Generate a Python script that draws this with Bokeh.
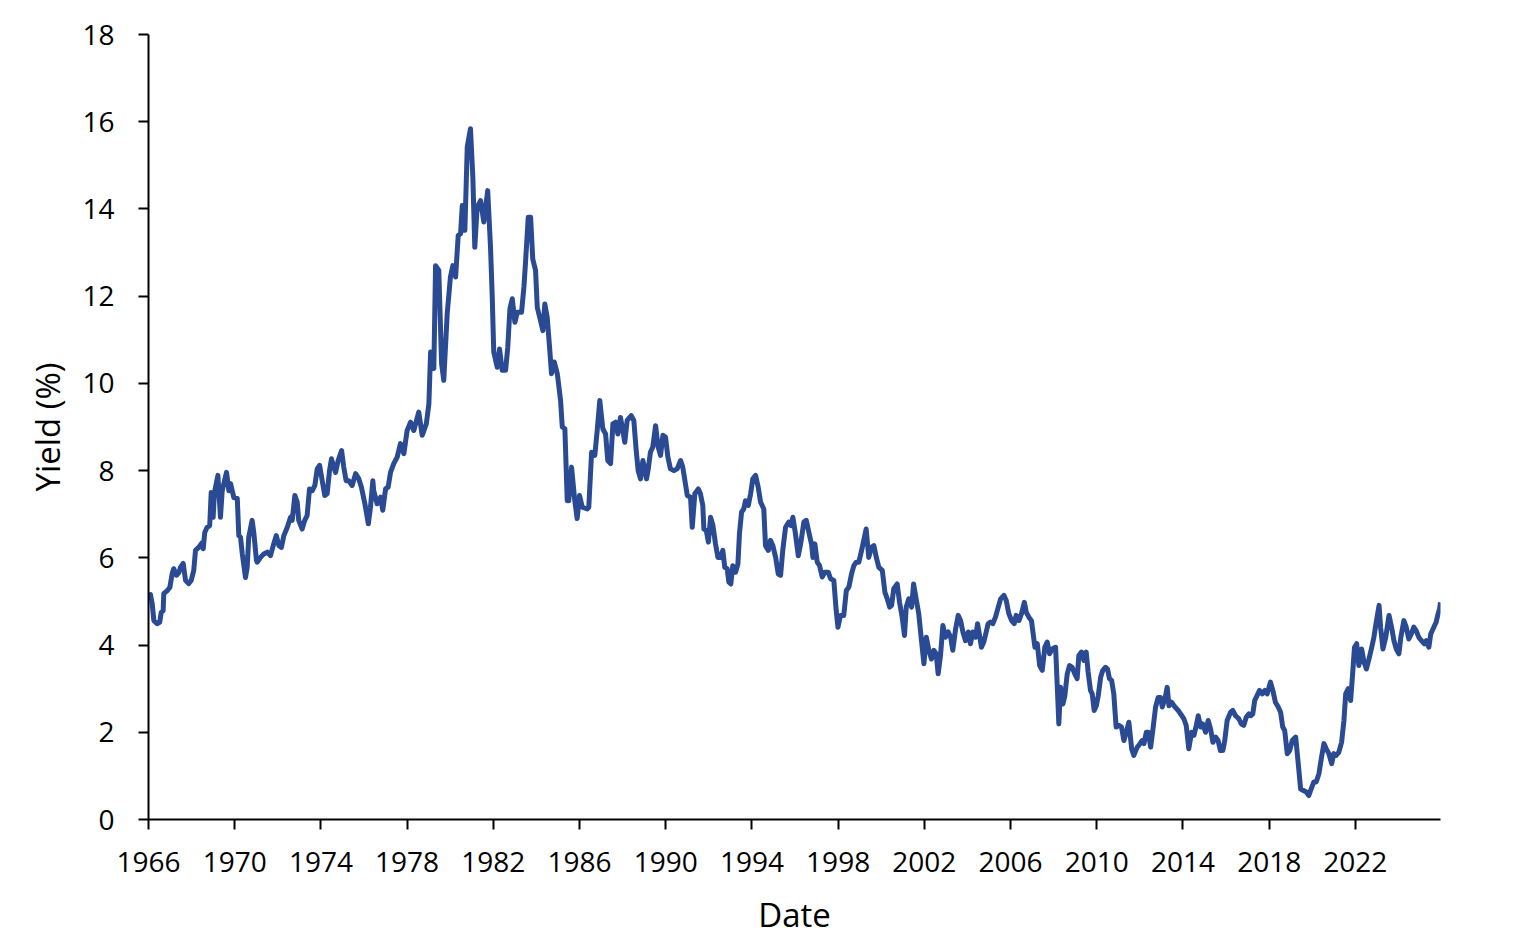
from bokeh.embed import file_html
from bokeh.models import ColumnDataSource, FixedTicker, Range1d
from bokeh.plotting import figure
from bokeh.resources import INLINE

# decimal year positions and yields (%)
dates = [
    1966.01, 1966.09, 1966.17, 1966.25, 1966.40, 1966.52, 1966.59, 1966.68, 1966.71, 1966.87,
    1966.99, 1967.10, 1967.17, 1967.30, 1967.41, 1967.48, 1967.61, 1967.72, 1967.87, 1967.98,
    1968.10, 1968.18, 1968.33, 1968.46, 1968.54, 1968.61, 1968.72, 1968.84, 1968.91, 1969.00,
    1969.06, 1969.22, 1969.34, 1969.42, 1969.62, 1969.73, 1969.81, 1969.96, 1970.12, 1970.19,
    1970.27, 1970.35, 1970.50, 1970.58, 1970.65, 1970.81, 1970.89, 1971.01, 1971.04, 1971.20,
    1971.35, 1971.51, 1971.66, 1971.81, 1971.93, 1972.05, 1972.17, 1972.28, 1972.44, 1972.59,
    1972.67, 1972.79, 1972.90, 1972.97, 1973.13, 1973.25, 1973.36, 1973.47, 1973.60, 1973.72,
    1973.83, 1973.94, 1974.06, 1974.18, 1974.29, 1974.40, 1974.49, 1974.60, 1974.68, 1974.80,
    1974.96, 1975.06, 1975.17, 1975.29, 1975.45, 1975.61, 1975.76, 1975.88, 1976.04, 1976.20,
    1976.30, 1976.41, 1976.45, 1976.61, 1976.77, 1976.87, 1977.00, 1977.12, 1977.23, 1977.38,
    1977.54, 1977.69, 1977.85, 1978.00, 1978.16, 1978.31, 1978.54, 1978.70, 1978.89, 1979.01,
    1979.09, 1979.24, 1979.32, 1979.47, 1979.60, 1979.70, 1979.86, 1980.01, 1980.12, 1980.25,
    1980.37, 1980.48, 1980.56, 1980.68, 1980.79, 1980.94, 1981.05, 1981.14, 1981.25, 1981.41,
    1981.56, 1981.74, 1981.87, 1981.95, 1982.02, 1982.18, 1982.29, 1982.41, 1982.57, 1982.67,
    1982.77, 1982.88, 1983.00, 1983.11, 1983.31, 1983.42, 1983.49, 1983.62, 1983.73, 1983.83,
    1983.96, 1984.04, 1984.19, 1984.30, 1984.39, 1984.50, 1984.61, 1984.70, 1984.83, 1984.97,
    1985.12, 1985.20, 1985.32, 1985.43, 1985.50, 1985.63, 1985.78, 1985.89, 1986.00, 1986.13,
    1986.36, 1986.43, 1986.56, 1986.71, 1986.82, 1986.94, 1987.08, 1987.21, 1987.31, 1987.44,
    1987.55, 1987.67, 1987.78, 1987.90, 1988.01, 1988.10, 1988.21, 1988.40, 1988.52, 1988.63,
    1988.72, 1988.83, 1988.94, 1989.03, 1989.11, 1989.19, 1989.29, 1989.40, 1989.53, 1989.65,
    1989.76, 1989.87, 1989.99, 1990.10, 1990.22, 1990.38, 1990.53, 1990.69, 1990.79, 1990.89,
    1991.00, 1991.15, 1991.23, 1991.35, 1991.51, 1991.61, 1991.72, 1991.77, 1991.88, 1991.98,
    1992.08, 1992.19, 1992.31, 1992.42, 1992.54, 1992.65, 1992.74, 1992.85, 1992.93, 1993.02,
    1993.11, 1993.24, 1993.35, 1993.42, 1993.52, 1993.62, 1993.70, 1993.83, 1993.94, 1994.04,
    1994.17, 1994.29, 1994.40, 1994.55, 1994.63, 1994.76, 1994.86, 1994.97, 1995.10, 1995.22,
    1995.33, 1995.43, 1995.56, 1995.71, 1995.81, 1995.90, 1996.02, 1996.15, 1996.26, 1996.41,
    1996.52, 1996.64, 1996.77, 1996.83, 1996.92, 1997.03, 1997.14, 1997.26, 1997.38, 1997.54,
    1997.65, 1997.80, 1997.91, 1997.99, 1998.11, 1998.26, 1998.38, 1998.50, 1998.62, 1998.73,
    1998.84, 1998.96, 1999.07, 1999.19, 1999.30, 1999.42, 1999.55, 1999.66, 1999.77, 1999.89,
    2000.05, 2000.17, 2000.28, 2000.39, 2000.48, 2000.58, 2000.74, 2000.85, 2000.97, 2001.08,
    2001.16, 2001.28, 2001.41, 2001.50, 2001.62, 2001.74, 2001.82, 2001.98, 2002.09, 2002.21,
    2002.33, 2002.44, 2002.55, 2002.64, 2002.75, 2002.86, 2002.98, 2003.11, 2003.22, 2003.32,
    2003.45, 2003.57, 2003.68, 2003.79, 2003.91, 2004.04, 2004.14, 2004.25, 2004.38, 2004.47,
    2004.56, 2004.65, 2004.76, 2004.87, 2004.96, 2005.07, 2005.18, 2005.30, 2005.43, 2005.54,
    2005.69, 2005.80, 2005.92, 2006.05, 2006.17, 2006.26, 2006.39, 2006.51, 2006.64, 2006.73,
    2006.85, 2006.97, 2007.13, 2007.24, 2007.35, 2007.47, 2007.59, 2007.70, 2007.81, 2007.93,
    2008.09, 2008.17, 2008.24, 2008.32, 2008.43, 2008.52, 2008.63, 2008.74, 2008.86, 2008.98,
    2009.09, 2009.17, 2009.29, 2009.40, 2009.51, 2009.60, 2009.71, 2009.79, 2009.88, 2009.98,
    2010.07, 2010.18, 2010.28, 2010.41, 2010.50, 2010.59, 2010.69, 2010.79, 2010.90, 2011.03,
    2011.15, 2011.26, 2011.37, 2011.49, 2011.62, 2011.72, 2011.88, 2011.95, 2012.11, 2012.19,
    2012.30, 2012.39, 2012.50, 2012.60, 2012.73, 2012.85, 2012.96, 2013.04, 2013.16, 2013.27,
    2013.35, 2013.47, 2013.63, 2013.78, 2013.89, 2014.04, 2014.15, 2014.27, 2014.40, 2014.51,
    2014.62, 2014.71, 2014.82, 2014.92, 2015.05, 2015.17, 2015.28, 2015.39, 2015.51, 2015.63,
    2015.74, 2015.85, 2015.94, 2016.05, 2016.21, 2016.31, 2016.44, 2016.59, 2016.71, 2016.82,
    2016.94, 2017.06, 2017.14, 2017.24, 2017.33, 2017.44, 2017.55, 2017.68, 2017.80, 2017.91,
    2018.06, 2018.17, 2018.29, 2018.42, 2018.53, 2018.63, 2018.72, 2018.84, 2018.95, 2019.07,
    2019.23, 2019.35, 2019.46, 2019.61, 2019.72, 2019.84, 2019.92, 2020.07, 2020.18, 2020.31,
    2020.43, 2020.54, 2020.65, 2020.77, 2020.90, 2021.00, 2021.11, 2021.23, 2021.36, 2021.47,
    2021.55, 2021.67, 2021.78, 2021.86, 2021.96, 2022.06, 2022.16, 2022.29, 2022.40, 2022.51,
    2022.63, 2022.76, 2022.86, 2022.98, 2023.10, 2023.17, 2023.28, 2023.41, 2023.56, 2023.68,
    2023.79, 2023.90, 2024.02, 2024.11, 2024.25, 2024.36, 2024.48, 2024.60, 2024.71, 2024.82,
    2024.94, 2025.07, 2025.19, 2025.29, 2025.41, 2025.50, 2025.64, 2025.75, 2025.84, 2025.91,
    2025.95,
]

yields = [
    5.02, 5.16, 4.95, 4.56, 4.49, 4.52, 4.75, 4.79, 5.18, 5.25,
    5.32, 5.64, 5.75, 5.60, 5.66, 5.78, 5.87, 5.48, 5.41, 5.48,
    5.71, 6.17, 6.24, 6.33, 6.21, 6.58, 6.70, 6.74, 7.50, 6.93,
    7.50, 7.89, 6.93, 7.54, 7.96, 7.54, 7.70, 7.38, 7.36, 6.51,
    6.47, 6.10, 5.55, 5.78, 6.47, 6.86, 6.56, 5.94, 5.90, 6.01,
    6.09, 6.13, 6.05, 6.32, 6.51, 6.28, 6.24, 6.51, 6.70, 6.93,
    6.86, 7.43, 7.28, 6.86, 6.66, 6.86, 6.97, 7.58, 7.54, 7.66,
    8.04, 8.12, 7.77, 7.43, 7.47, 8.00, 8.27, 8.08, 7.96, 8.23,
    8.46, 8.08, 7.77, 7.77, 7.66, 7.93, 7.81, 7.62, 7.24, 6.78,
    7.16, 7.77, 7.54, 7.24, 7.39, 7.09, 7.58, 7.62, 7.96, 8.16,
    8.31, 8.62, 8.39, 8.92, 9.11, 8.92, 9.34, 8.81, 9.07, 9.53,
    10.72, 10.34, 12.70, 12.59, 10.45, 10.07, 11.60, 12.44, 12.70, 12.44,
    13.39, 13.43, 14.08, 13.51, 15.42, 15.84, 14.73, 13.12, 14.04, 14.19,
    13.70, 14.42, 13.12, 11.98, 10.72, 10.37, 10.79, 10.30, 10.30, 10.83,
    11.71, 11.94, 11.40, 11.63, 11.63, 12.21, 12.74, 13.81, 13.81, 12.85,
    12.59, 11.74, 11.44, 11.21, 11.82, 11.52, 10.83, 10.22, 10.49, 10.22,
    9.61, 9.00, 8.96, 7.31, 7.31, 8.08, 7.31, 6.90, 7.43, 7.16,
    7.12, 7.16, 8.42, 8.35, 8.92, 9.61, 8.96, 8.84, 8.23, 8.16,
    9.07, 9.11, 8.84, 9.22, 8.92, 8.65, 9.15, 9.26, 9.15, 8.46,
    8.00, 7.81, 8.23, 8.04, 7.81, 8.04, 8.42, 8.54, 9.03, 8.54,
    8.35, 8.81, 8.77, 8.31, 8.04, 8.00, 8.04, 8.23, 8.08, 7.77,
    7.43, 7.39, 6.70, 7.47, 7.58, 7.47, 7.20, 6.66, 6.63, 6.36,
    6.93, 6.74, 6.32, 6.01, 6.01, 6.17, 5.78, 5.75, 5.44, 5.40,
    5.82, 5.67, 5.86, 6.55, 7.05, 7.12, 7.31, 7.20, 7.47, 7.81,
    7.89, 7.62, 7.28, 7.12, 6.28, 6.17, 6.40, 6.28, 6.01, 5.63,
    5.60, 6.17, 6.70, 6.82, 6.74, 6.93, 6.55, 6.05, 6.32, 6.82,
    6.86, 6.59, 6.30, 6.01, 6.32, 5.90, 5.82, 5.56, 5.67, 5.67,
    5.52, 5.48, 4.79, 4.41, 4.68, 4.68, 5.25, 5.33, 5.63, 5.82,
    5.90, 5.90, 6.13, 6.40, 6.66, 6.01, 6.24, 6.28, 6.01, 5.78,
    5.71, 5.21, 5.06, 4.87, 4.91, 5.29, 5.40, 4.98, 4.64, 4.22,
    4.87, 5.06, 4.87, 5.40, 5.06, 4.72, 4.33, 3.57, 4.18, 3.88,
    3.68, 3.88, 3.80, 3.34, 3.76, 4.45, 4.18, 4.30, 4.18, 3.88,
    4.37, 4.68, 4.56, 4.30, 4.10, 4.30, 4.03, 4.30, 4.18, 4.49,
    4.22, 3.95, 4.07, 4.30, 4.49, 4.53, 4.49, 4.64, 4.87, 5.06,
    5.14, 5.02, 4.72, 4.56, 4.49, 4.68, 4.56, 4.72, 4.98, 4.75,
    4.64, 4.56, 3.95, 4.03, 3.53, 3.42, 3.95, 4.07, 3.80, 3.91,
    3.95, 3.03, 2.19, 3.03, 2.65, 2.84, 3.34, 3.53, 3.49, 3.34,
    3.23, 3.76, 3.84, 3.65, 3.84, 3.38, 2.96, 2.88, 2.50, 2.61,
    2.84, 3.26, 3.42, 3.49, 3.45, 3.23, 3.19, 2.88, 2.12, 2.16,
    2.12, 1.81, 2.00, 2.23, 1.62, 1.47, 1.66, 1.70, 1.81, 1.74,
    2.00, 2.00, 1.66, 2.04, 2.58, 2.80, 2.80, 2.58, 2.76, 3.03,
    2.61, 2.69, 2.58, 2.50, 2.42, 2.31, 2.16, 1.62, 2.00, 1.93,
    2.16, 2.38, 2.12, 2.19, 2.00, 2.27, 2.08, 1.77, 1.89, 1.81,
    1.58, 1.58, 1.81, 2.27, 2.46, 2.50, 2.38, 2.31, 2.19, 2.16,
    2.35, 2.42, 2.38, 2.42, 2.73, 2.84, 2.96, 2.88, 2.96, 2.88,
    3.15, 2.96, 2.69, 2.58, 2.46, 2.12, 2.04, 1.51, 1.58, 1.81,
    1.89, 1.28, 0.70, 0.66, 0.63, 0.55, 0.66, 0.86, 0.86, 1.05,
    1.43, 1.74, 1.62, 1.51, 1.28, 1.51, 1.47, 1.54, 1.77, 2.27,
    2.88, 3.00, 2.73, 3.26, 3.95, 4.03, 3.53, 3.91, 3.61, 3.45,
    3.68, 3.95, 4.18, 4.56, 4.91, 4.41, 3.91, 4.18, 4.68, 4.41,
    4.10, 3.91, 3.80, 4.18, 4.56, 4.41, 4.14, 4.26, 4.41, 4.33,
    4.18, 4.10, 4.03, 4.10, 3.95, 4.26, 4.41, 4.53, 4.72, 4.83,
    4.98,
]

x_ticks = list(range(1966, 2023, 4))
y_ticks = list(range(0, 19, 2))

source = ColumnDataSource(data=dict(date=dates, yld=yields))

p = figure(width=1508, height=940, output_backend="svg", toolbar_location=None, tools="",
           x_range=Range1d(1966, 2025.95), y_range=Range1d(0, 18),
           min_border_left=148, min_border_right=68, min_border_top=34, min_border_bottom=121)

p.line(x="date", y="yld", source=source, line_color="#2a4a94", line_width=5,
       line_join="round")

p.outline_line_color = None
p.xgrid.grid_line_color = None
p.ygrid.grid_line_color = None

p.xaxis.ticker = FixedTicker(ticks=x_ticks)
p.xaxis.major_label_overrides = {t: str(t) for t in x_ticks}
p.yaxis.ticker = FixedTicker(ticks=y_ticks)

p.xaxis.axis_label = "Date"
p.yaxis.axis_label = "Yield (%)"

for ax in (p.xaxis, p.yaxis):
    ax.axis_line_color = "black"
    ax.axis_line_width = 2
    ax.major_tick_line_color = "black"
    ax.major_tick_line_width = 2
    ax.major_tick_in = 0
    ax.major_tick_out = 10
    ax.minor_tick_line_color = None
    ax.major_label_text_font = "Open Sans"
    ax.major_label_text_font_size = "28px"
    ax.major_label_text_color = "black"
    ax.axis_label_text_font = "Open Sans"
    ax.axis_label_text_font_size = "33px"
    ax.axis_label_text_font_style = "normal"
    ax.axis_label_text_color = "black"

p.xaxis.major_label_standoff = 22
p.yaxis.major_label_standoff = 24
p.xaxis.axis_label_standoff = 17
p.yaxis.axis_label_standoff = 9

open("out.html", "w").write(file_html(p, INLINE))
